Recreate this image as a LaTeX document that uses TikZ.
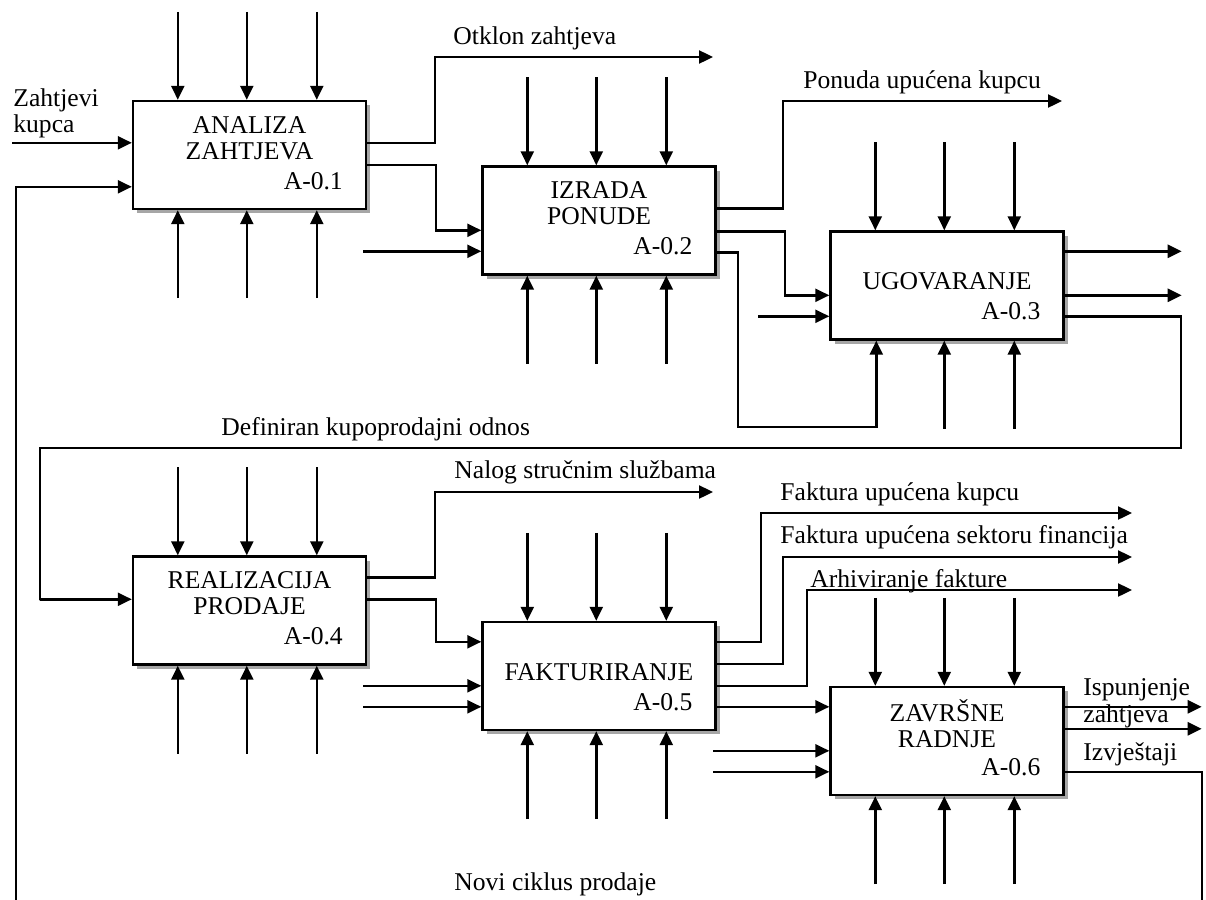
\documentclass[tikz,border=0pt]{standalone}
\usepackage{fontspec}
\setmainfont{Liberation Serif}
\usetikzlibrary{arrows.meta,calc,shadows}

\tikzset{
  proc/.style={draw, line width=1.2pt, fill=white, minimum width=116.5pt, minimum height=54pt, inner sep=0pt,
    drop shadow={shadow xshift=2.2pt, shadow yshift=-2.2pt, fill=gray!70, opacity=1}},
  flow/.style={line width=1.2pt, -{Triangle[length=7pt,width=6.5pt]}},
  lbl/.style={anchor=base west, inner sep=0pt, align=left, font=\fontsize{12.8}{13}\selectfont},
  ttl/.style={inner sep=0pt, align=center, font=\fontsize{12.8}{13}\selectfont}
}

\begin{document}
\begin{tikzpicture}[x=0.5pt, y=-0.5pt]
\useasboundingbox (0,0) rectangle (1206,900);

% activity boxes
\foreach \n/\x/\y/\t/\ty/\id in {a1/249.5/155/{ANALIZA\\ZAHTJEVA}/38/A-0.1,
    a2/599/220.5/{IZRADA\\PONUDE}/38/A-0.2, a3/947/285.5/{UGOVARANJE}/51/A-0.3,
    a4/249.5/610.5/{REALIZACIJA\\PRODAJE}/38/A-0.4, a5/599/676/{FAKTURIRANJE}/51/A-0.5,
    a6/947/741/{ZAVRŠNE\\RADNJE}/38/A-0.6} {
  \node[proc] (\n) at (\x,\y) {};
  \node[ttl] at ($(\n.north)+(0,\ty)$) {\t};
  \node[ttl, anchor=east] at ($(\n.north east)+(-24,81)$) {\id};
}

% controls (top) and mechanisms (bottom)
\foreach \n in {a1,a2,a3,a4,a5,a6}
  \foreach \dx in {46,115,185}
    \draw[flow] ($(\n.north west)+(\dx,-88)$) -- ($(\n.north west)+(\dx,0)$);
\foreach \n in {a1,a2,a4,a5,a6}
  \foreach \dx in {46,115,185}
    \draw[flow] ($(\n.south west)+(\dx,88)$) -- ($(\n.south west)+(\dx,0)$);
\foreach \dx in {115,185}
  \draw[flow] ($(a3.south west)+(\dx,88)$) -- ($(a3.south west)+(\dx,0)$);

% free inputs
\foreach \n/\dy/\len in {a2/86/118, a3/86/71, a5/65/118, a5/86/118, a6/65/116, a6/86/116}
  \draw[flow] ($(\n.north west)+(-\len,\dy)$) -- ($(\n.north west)+(0,\dy)$);

% A-0.1
\coordinate (zk) at (13,143);
\draw[flow] (zk) |- ($(a1.north west)+(0,43)$);
\node[lbl] at (13,132) {Zahtjevi\\kupca};
\draw[flow] ($(a1.north east)+(0,43)$) -| (435,57) -- (713,57) coordinate (otklon);
\node[lbl] at (453,44) {Otklon zahtjeva};
\draw[flow] ($(a1.north east)+(0,65)$) -- ++(69,0) |- ($(a2.north west)+(0,65)$);

% A-0.2
\draw[flow] ($(a2.north east)+(0,43)$) -| (783,101) -- (1062,101) coordinate (ponuda);
\node[lbl] at (803,88) {Ponuda upućena kupcu};
\draw[flow] ($(a2.north east)+(0,66)$) -- ++(68,0) |- ($(a3.north west)+(0,65)$);
\draw[flow] ($(a2.north east)+(0,87)$) -| (738,427) -| ($(a3.south west)+(47,0)$);

% A-0.3
\draw[flow] ($(a3.north east)+(0,21)$) -- ++(117,0) coordinate (o31);
\draw[flow] ($(a3.north east)+(0,65)$) -- ++(117,0) coordinate (o32);
\draw[flow] ($(a3.north east)+(0,86)$) -| (1181,448) -| (40,600) |- ($(a4.north west)+(0,44)$);
\node[lbl] at (221,435) {Definiran kupoprodajni odnos};

% A-0.4
\draw[flow] ($(a4.north east)+(0,22)$) -| (435,492) -- (713,492) coordinate (nalog);
\node[lbl] at (454,478) {Nalog stručnim službama};
\draw[flow] ($(a4.north east)+(0,44)$) -- ++(69,0) |- ($(a5.north west)+(0,21)$);

% A-0.5
\draw[flow] ($(a5.north east)+(0,21)$) -| (761,513) -- (1132,513) coordinate (fkupac);
\node[lbl] at (780,500) {Faktura upućena kupcu};
\draw[flow] ($(a5.north east)+(0,43)$) -| (783,557) -- (1132,557) coordinate (fsektor);
\node[lbl] at (780,543) {Faktura upućena sektoru financija};
\draw[flow] ($(a5.north east)+(0,65)$) -| (807,590) -- (1132,590) coordinate (farhiv);
\node[lbl] at (810,587) {Arhiviranje fakture};
\draw[flow] ($(a5.north east)+(0,86)$) -- ($(a6.north west)+(0,21)$);

% A-0.6
\draw[flow] ($(a6.north east)+(0,21)$) -- ++(137,0) coordinate (isp);
\draw[flow] ($(a6.north east)+(0,43)$) -- ++(137,0) coordinate (o62);
\node[lbl] at (1083,695) {Ispunjenje};
\node[lbl] at (1083,722) {zahtjeva};
\node[lbl] at (1083,760) {Izvještaji};
\draw[flow] ($(a6.north east)+(0,86)$) -| (1202,903) -- (16,903) |- ($(a1.north west)+(0,87)$);
\node[lbl] at (454,890) {Novi ciklus prodaje};
\end{tikzpicture}
\end{document}
